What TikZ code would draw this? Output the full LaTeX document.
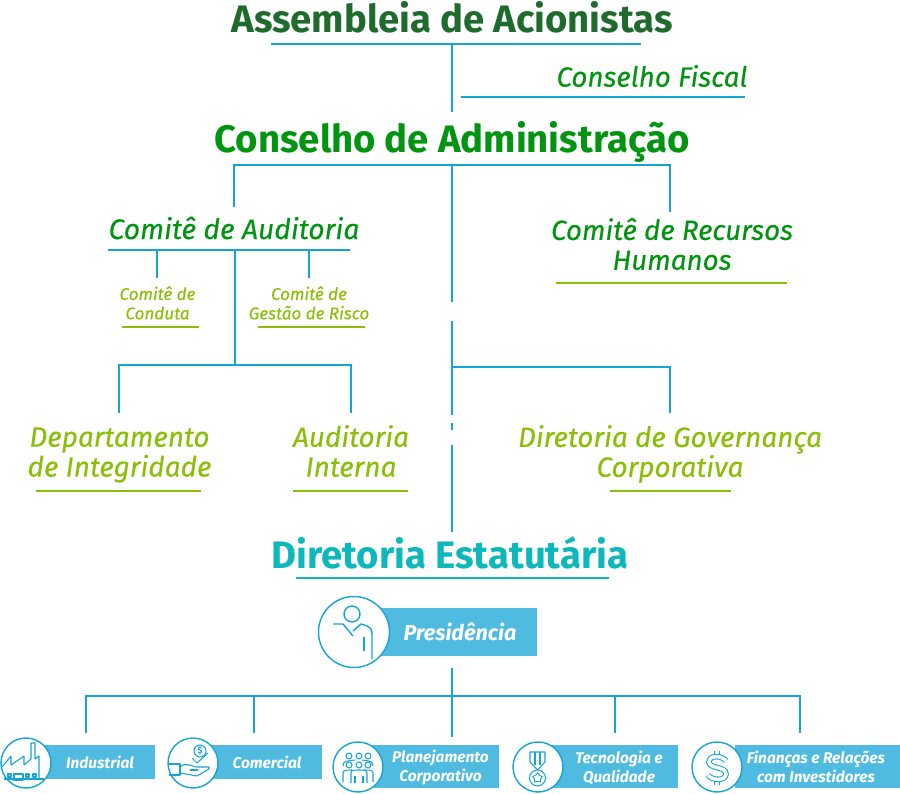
\documentclass[tikz,border=0pt]{standalone}
\usepackage{fontspec}
\setmainfont{Fira Sans}[ItalicFeatures={FakeBold=0.25}]
\usetikzlibrary{shapes.geometric}
\definecolor{lineblue}{HTML}{14A5D6}
\definecolor{boxblue}{HTML}{4FBBE0}
\definecolor{darkgreen}{HTML}{1F6B2E}
\definecolor{midgreen}{HTML}{009410}
\definecolor{limegreen}{HTML}{8ABE08}
\definecolor{tealtitle}{HTML}{0CB8BC}
\tikzset{
    x=0.02cm, y=-0.02cm,
    conn/.style={draw=lineblue, line width=1.4pt},
    connthick/.style={draw=lineblue, line width=1.5pt},
    rulelime/.style={draw=limegreen, line width=1.3pt},
    title/.style={font=\bfseries\fontsize{21.8}{25}\selectfont},
    comite/.style={font=\itshape\fontsize{15.8}{17}\selectfont, text=midgreen, align=center},
    dept/.style={font=\itshape\fontsize{15.9}{17}\selectfont, text=limegreen, align=center},
    small/.style={font=\itshape\fontsize{9.7}{11}\selectfont, text=limegreen, align=center},
    bluebox/.style={fill=boxblue, draw=none, anchor=north west, inner sep=0pt},
    boxtext/.style={font=\bfseries\itshape\fontsize{8.8}{10.4}\selectfont, text=white, align=center},
    iconring/.style={circle, draw=lineblue, fill=white, line width=0.8pt, inner sep=0pt},
    icon/.style={draw=lineblue, line width=0.6pt, line join=round},
    hollow/.style={draw=lineblue, line width=0.6pt, double=white, double distance=2pt},
}
\begin{document}
\begin{tikzpicture}
    \useasboundingbox (0,0) rectangle (900,794);

    % governance
    \node[title, text=darkgreen] (assembleia) at (452,17){Assembleia de Acionistas};
    \node[comite, anchor=center] (fiscal) at (652,76){Conselho Fiscal};
    \node[title, text=midgreen] (conselho) at (452,142){Conselho de Administração};
    \coordinate (assL) at (271,44);
    \coordinate (assR) at (641,44);
    \coordinate (assM) at (452,44);
    \coordinate (assB) at (452,112);
    \coordinate (fisL) at (461,97);
    \coordinate (fisR) at (745,97);
    \draw[conn] (assL) -- (assR);
    \draw[conn] (assM) -- (assB);
    \draw[conn] (fisL) -- (fisR);

    \node[comite, font=\itshape\fontsize{16.1}{17}\selectfont] (auditoria) at (234,228){Comitê de Auditoria};
    \node[comite] (recursos) at (672,244){Comitê de Recursos\\Humanos};
    \coordinate (conL) at (234,165);
    \coordinate (conM) at (452,165);
    \coordinate (conR) at (670,165);
    \coordinate (a1) at (234,207);
    \coordinate (a2) at (670,212);
    \coordinate (a3) at (452,302);
    \coordinate (a4) at (452,321);
    \coordinate (a5) at (452,415);
    \coordinate (a6) at (452,423);
    \coordinate (a7) at (452,430);
    \coordinate (a8) at (452,445);
    \coordinate (a9) at (452,532);
    \draw[conn] (a1) -- (conL) -- (conR) -- (a2);
    \draw[conn] (conM) -- (a3);
    \draw[conn] (a4) -- (a5);
    \draw[conn] (a6) -- (a7);
    \draw[conn] (a8) -- (a9);
    \coordinate (recL) at (556,283);
    \coordinate (recR) at (787,283);
    \draw[rulelime] (recL) -- (recR);

    % auditoria
    \node[small] (conduta) at (157.5,303){Comitê de\\Conduta};
    \node[small] (risco) at (309,303){Comitê de\\Gestão de Risco};
    \coordinate (audL) at (108,250);
    \coordinate (audR) at (350,250);
    \coordinate (audC) at (157,250);
    \coordinate (audD) at (309,250);
    \coordinate (audM) at (235,250);
    \coordinate (cB) at (157,278);
    \coordinate (dB) at (309,278);
    \coordinate (audJ) at (235,365);
    \draw[conn] (audL) -- (audR);
    \draw[conn] (audC) -- (cB);
    \draw[conn] (audD) -- (dB);
    \draw[conn] (audM) -- (audJ);
    \coordinate (cdL) at (122,327);
    \coordinate (cdR) at (199,327);
    \coordinate (rkL) at (258,327);
    \coordinate (rkR) at (365,327);
    \draw[rulelime] (cdL) -- (cdR);
    \draw[rulelime] (rkL) -- (rkR);

    % departamentos
    \node[dept] (integridade) at (119.5,455){Departamento\\de Integridade};
    \node[dept] (interna) at (351,451){Auditoria\\Interna};
    \node[dept] (governanca) at (670,454){Diretoria de Governança\\Corporativa};
    \coordinate (j1) at (119,365);
    \coordinate (j2) at (351,365);
    \coordinate (j1b) at (119,413);
    \coordinate (j2b) at (351,413);
    \coordinate (j3) at (452,367);
    \coordinate (j4) at (670,367);
    \coordinate (j4b) at (670,413);
    \draw[conn] (j1b) -- (j1) -- (j2) -- (j2b);
    \draw[conn] (j3) -- (j4) -- (j4b);
    \coordinate (inL) at (36,491);
    \coordinate (inR) at (201,491);
    \coordinate (itL) at (293,491);
    \coordinate (itR) at (408,491);
    \coordinate (goL) at (610,491);
    \coordinate (goR) at (731,491);
    \draw[rulelime] (inL) -- (inR);
    \draw[rulelime] (itL) -- (itR);
    \draw[rulelime] (goL) -- (goR);

    % diretoria
    \node[title, text=tealtitle] (estatutaria) at (450,553){Diretoria Estatutária};
    \coordinate (estL) at (296,578);
    \coordinate (estR) at (609,578);
    \draw[draw=tealtitle, line width=1.3pt] (estL) -- (estR);

    \coordinate (p1) at (452,668);
    \coordinate (p2) at (452,737);
    \coordinate (hL) at (86,696);
    \coordinate (hR) at (800,696);
    \coordinate (hC) at (254,696);
    \coordinate (hT) at (615,696);
    \coordinate (bI) at (86,733);
    \coordinate (bC) at (254,733);
    \coordinate (bT) at (615,733);
    \coordinate (bF) at (800,733);
    \draw[connthick] (p1) -- (p2);
    \draw[connthick] (bI) -- (hL) -- (hR) -- (bF);
    \draw[connthick] (hC) -- (bC);
    \draw[connthick] (hT) -- (bT);

    % boxes
    \node[bluebox, minimum width=3.28cm, minimum height=0.96cm] (boxP) at (373,608){};
    \node[boxtext, font=\bfseries\itshape\fontsize{12.3}{13}\selectfont] (presidencia) at (460,632){Presidência};
    \node[bluebox, minimum width=2.3cm, minimum height=0.68cm] (boxI) at (40,745){};
    \node[boxtext] (industrial) at (100,762.5){Industrial};
    \node[bluebox, minimum width=2.24cm, minimum height=0.68cm] (boxC) at (210,745){};
    \node[boxtext] (comercial) at (267,762.5){Comercial};
    \node[bluebox, minimum width=2.54cm, minimum height=0.86cm] (boxL) at (372,745){};
    \node[boxtext] (planejamento) at (440.5,767.5){Planejamento\\Corporativo};
    \node[bluebox, minimum width=2.52cm, minimum height=0.86cm] (boxT) at (552,745){};
    \node[boxtext] (tecnologia) at (619,768){Tecnologia e\\Qualidade};
    \node[bluebox, minimum width=3.3cm, minimum height=0.86cm] (boxF) at (735,745){};
    \node[boxtext] (financas) at (816,767){Finanças e Relações\\com Investidores};

    % icons
    \node[iconring, minimum size=1.42cm] (ringP) at (354,632){};
    \draw[icon, line width=0.8pt] (352,614) circle (8);
    \draw[icon, line width=0.8pt] (333,624) -- (343,624) -- (353,636);
    \draw[icon, line width=0.8pt] (353,631) -- (361,624) -- (367,626) .. controls (371,628) and (372,630) .. (372,634) -- (372,659);
    \draw[icon, line width=0.8pt] (364,637) -- (364,651);

    \node[iconring, minimum size=1cm] (ringI) at (26,763){};
    \draw[icon] (2,767) -- (11,756) -- (11,765) -- (24,756) -- (24,765) -- (31,759) -- (31,743) -- (35,743) -- (35,759) -- (39,756) -- (39,779);
    \draw[icon] (4,779) -- (44,779);
    \draw[icon] (14,774) rectangle (23,780);
    \draw[icon] (8,774) rectangle (11,777);
    \draw[icon] (26,774) rectangle (29,777);
    \draw[icon] (33,774) rectangle (36,777);

    \node[iconring, minimum size=1cm] (ringC) at (193,763){};
    \draw[icon] (200,751) circle (6);
    \node[font=\bfseries\fontsize{5}{5}\selectfont, text=lineblue, inner sep=0pt] (coin) at (200,751){\$};
    \draw[icon] (192,758) -- (197,763) -- (208,753);
    \draw[icon] (169,764) -- (180,764) -- (180,775) -- (169,775);
    \draw[icon] (180,767) .. controls (186,762) and (190,766) .. (197,767) -- (209,767) -- (209,769) -- (197,776) -- (180,773);
    \draw[icon] (190,770) -- (198,770);

    \node[iconring, minimum size=1cm] (ringL) at (358,767){};
    \foreach \hx/\hy in {349/756, 359/756, 368/756, 349/765, 368/765, 359/765}{
        \draw[icon] (\hx,\hy) circle (3);
    }
    \draw[icon] (343,766) .. controls (343,761) and (346,761) .. (355,760);
    \draw[icon] (373,766) .. controls (373,761) and (370,761) .. (362,760);
    \draw[icon, fill=white] (343,782) -- (343,773) .. controls (343,770) and (346,770) .. (352,770) -- (352,782);
    \draw[icon, fill=white] (373,782) -- (373,773) .. controls (373,770) and (370,770) .. (364,770) -- (364,782);
    \draw[icon, fill=white] (351,783) -- (351,773) .. controls (351,770) and (354,770) .. (359,770) .. controls (364,770) and (367,770) .. (367,773) -- (367,783);
    \draw[icon] (355,776) -- (355,783);
    \draw[icon] (363,776) -- (363,783);

    \node[iconring, minimum size=1cm] (ringT) at (538,767){};
    \draw[icon] (530,752) -- (545,752) -- (545,762) -- (537.5,770) -- (530,762) -- cycle;
    \draw[icon] (535,752) -- (535,765);
    \draw[icon] (540,752) -- (540,765);
    \draw[icon, fill=white] (537.5,778) circle (8);
    \node[star, star points=5, draw=lineblue, line width=0.5pt, inner sep=0pt, minimum size=0.2cm] (medal) at (537.5,778){};

    \node[iconring, minimum size=1cm] (ringF) at (717,767){};
    \draw[hollow] (717,751) -- (717,757);
    \draw[hollow] (717,778) -- (717,785);
    \draw[hollow] (726,761) .. controls (722,755) and (709,755) .. (709,762) .. controls (709,769) and (726,766) .. (726,774) .. controls (726,781) and (712,781) .. (708,775);
\end{tikzpicture}
\end{document}
